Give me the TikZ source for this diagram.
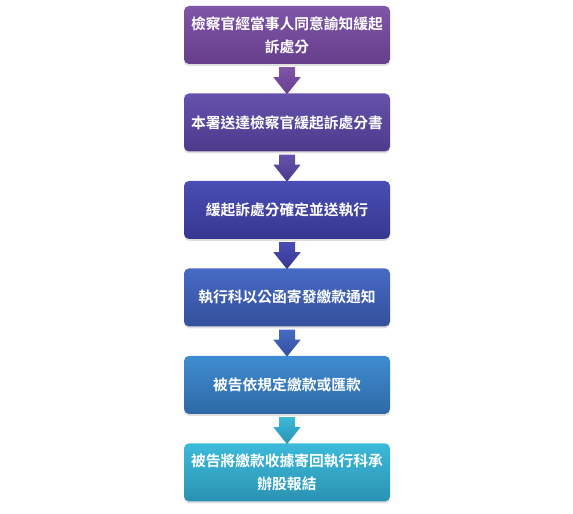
\documentclass[tikz,border=0pt]{standalone}
\usepackage{fontspec}
\newfontfamily\cjk{Noto Sans CJK TC}[BoldFont={Noto Sans CJK TC Bold}]
\usetikzlibrary{positioning,calc,shadows}
\definecolor{pA}{HTML}{7E55A8}\definecolor{pAd}{HTML}{683F8C}
\definecolor{pB}{HTML}{6652AC}\definecolor{pBd}{HTML}{4D3A8C}
\definecolor{pC}{HTML}{4A4DB4}\definecolor{pCd}{HTML}{363790}
\definecolor{pD}{HTML}{466AC4}\definecolor{pDd}{HTML}{34509C}
\definecolor{pE}{HTML}{3F8CD2}\definecolor{pEd}{HTML}{2E69A6}
\definecolor{pF}{HTML}{3CBADA}\definecolor{pFd}{HTML}{2A92B2}

\begin{document}
\begin{tikzpicture}[
    stepbox/.style={rounded corners=0.15cm, minimum width=6.18cm, minimum height=1.74cm,
        align=center, text=white, font=\cjk\bfseries\fontsize{12.6}{19.5}\selectfont,
        shading=axis, shading angle=0,
        drop shadow={opacity=0.25, shadow xshift=0pt, shadow yshift=-0.06cm}},
    flow/.style={shading=axis, shading angle=0}
]
\useasboundingbox (0,0) rectangle (17.19,-15.42);

% 流程方塊
\node[stepbox, top color=pA, bottom color=pAd] (b1) at (8.61,-1.05) {檢察官經當事人同意諭知緩起\\訴處分};
\node[stepbox, top color=pB, bottom color=pBd, below=0.87cm of b1] (b2) {本署送達檢察官緩起訴處分書};
\node[stepbox, top color=pC, bottom color=pCd, below=0.87cm of b2] (b3) {緩起訴處分確定並送執行};
\node[stepbox, top color=pD, bottom color=pDd, below=0.87cm of b3] (b4) {執行科以公函寄發繳款通知};
\node[stepbox, top color=pE, bottom color=pEd, below=0.87cm of b4] (b5) {被告依規定繳款或匯款};
\node[stepbox, top color=pF, bottom color=pFd, below=0.87cm of b5] (b6) {被告將繳款收據寄回執行科承\\辦股報結};

% 箭頭
\foreach \i/\j/\ca/\cb in {1/2/pA/pAd, 2/3/pB/pBd, 3/4/pC/pCd, 4/5/pD/pDd, 5/6/pF/pFd} {
    \path[flow, top color=\ca, bottom color=\cb]
        ($(b\i.south)+(-0.24,-0.09)$) -- ($(b\i.south)+(0.24,-0.09)$)
        -- ($(b\i.south)+(0.24,-0.39)$) -- ($(b\i.south)+(0.41,-0.39)$)
        -- ($(b\j.north)+(0,-0.03)$)
        -- ($(b\i.south)+(-0.41,-0.39)$) -- ($(b\i.south)+(-0.24,-0.39)$) -- cycle;
}
\end{tikzpicture}
\end{document}
